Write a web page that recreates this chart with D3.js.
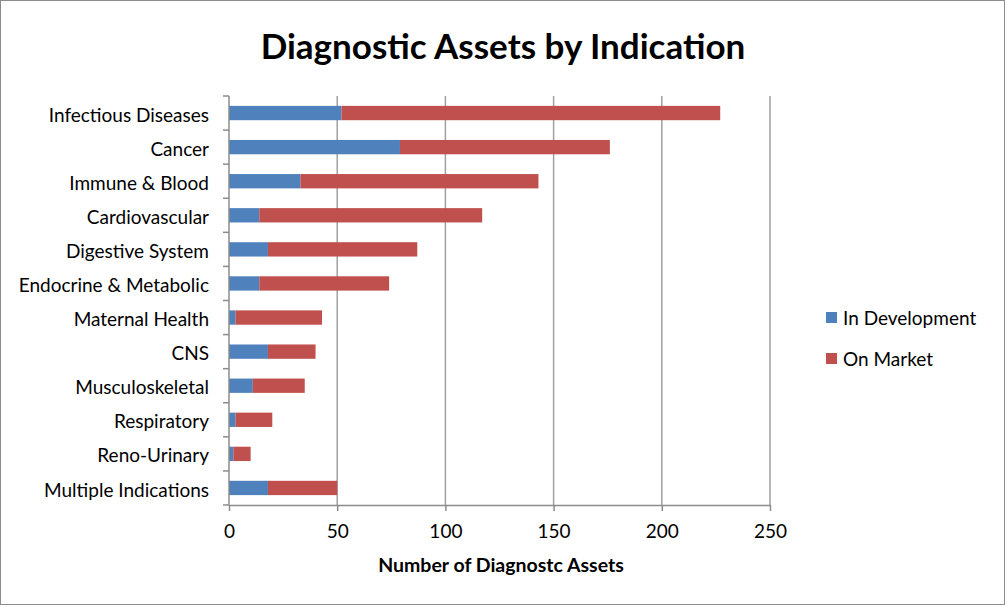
<!DOCTYPE html>
<html>
<head>
<meta charset="utf-8">
<script src="https://cdn.jsdelivr.net/npm/d3@7"></script>
<style>
  body { margin: 0; background: #fff; }
  text { font-family: Lato, "Open Sans", sans-serif; fill: #000; }
</style>
</head>
<body>
<div id="chart"></div>
<script>
const categories = ["Infectious Diseases", "Cancer", "Immune & Blood", "Cardiovascular",
  "Digestive System", "Endocrine & Metabolic", "Maternal Health", "CNS",
  "Musculoskeletal", "Respiratory", "Reno-Urinary", "Multiple Indications"];
const inDevelopment = [52, 79, 33, 14, 18, 14, 3, 18, 11, 3, 2, 18];
const onMarket = [175, 97, 110, 103, 69, 60, 40, 22, 24, 17, 8, 32];
const seriesNames = ["In Development", "On Market"];
const xTicks = [0, 50, 100, 150, 200, 250];

const colors = ["#4f81bd", "#c0504d"];
const width = 1007, height = 607;
const margin = {top: 96, right: 237, bottom: 102, left: 229};
const innerW = width - margin.left - margin.right;
const innerH = height - margin.top - margin.bottom;

const svg = d3.select("#chart").append("svg")
  .attr("width", width).attr("height", height);

svg.append("rect")
  .attr("x", 0.5).attr("y", 0.5)
  .attr("width", width - 3).attr("height", height - 3)
  .attr("fill", "#fff").attr("stroke", "#8c8c8c");

svg.append("text")
  .attr("x", 503).attr("y", 59)
  .attr("text-anchor", "middle")
  .style("font-size", "35px").style("font-weight", "bold")
  .text("Diagnostic Assets by Indication");

const g = svg.append("g").attr("transform", `translate(${margin.left},${margin.top})`);

const x = d3.scaleLinear().domain([0, 250]).range([0, innerW]);
const y = d3.scaleBand().domain(categories).range([0, innerH]).paddingInner(0.58).paddingOuter(0.29);

// gridlines
g.selectAll(".grid").data(xTicks.slice(1))
  .enter().append("line")
  .attr("x1", d => x(d)).attr("x2", d => x(d))
  .attr("y1", 0).attr("y2", innerH)
  .attr("stroke", "#a0a0a0").attr("stroke-width", 1.5);

const data = categories.map((c, i) => ({cat: c, dev: inDevelopment[i], mkt: onMarket[i]}));

g.selectAll(".bar.dev").data(data).enter().append("rect")
  .attr("class", "bar dev")
  .attr("x", x(0))
  .attr("y", d => y(d.cat))
  .attr("width", d => x(d.dev) - x(0))
  .attr("height", y.bandwidth())
  .attr("fill", colors[0]);

g.selectAll(".bar.mkt").data(data).enter().append("rect")
  .attr("class", "bar mkt")
  .attr("x", d => x(d.dev))
  .attr("y", d => y(d.cat))
  .attr("width", d => x(d.dev + d.mkt) - x(d.dev))
  .attr("height", y.bandwidth())
  .attr("fill", colors[1]);

// x axis
const xAxis = g.append("g")
  .attr("transform", `translate(0,${innerH})`)
  .call(d3.axisBottom(x).tickValues(xTicks).tickSize(6).tickSizeOuter(0).tickPadding(14));
xAxis.selectAll("text").style("font-size", "19px").style("font-family", "Lato, sans-serif");

// y axis with ticks at band edges
const yAxisG = g.append("g");
yAxisG.append("line")
  .attr("x1", 0).attr("x2", 0).attr("y1", 0).attr("y2", innerH);
const step = innerH / categories.length;
yAxisG.selectAll(".ytick").data(d3.range(categories.length + 1))
  .enter().append("line")
  .attr("x1", -6).attr("x2", 0)
  .attr("y1", d => d * step).attr("y2", d => d * step);
yAxisG.selectAll("line").attr("stroke", "#8c8c8c").attr("stroke-width", 1.5);
yAxisG.selectAll(".ylab").data(categories)
  .enter().append("text")
  .attr("x", -20)
  .attr("y", d => y(d) + y.bandwidth() / 2)
  .attr("dy", "0.45em")
  .attr("text-anchor", "end")
  .style("font-size", "19px")
  .text(d => d);

xAxis.selectAll("line, path").attr("stroke", "#8c8c8c").attr("stroke-width", 1.5);

svg.append("text")
  .attr("x", 501).attr("y", 572)
  .attr("text-anchor", "middle")
  .style("font-size", "19.5px").style("font-weight", "bold")
  .text("Number of Diagnostc Assets");

// legend
const legend = svg.append("g").attr("transform", "translate(826,312)");
seriesNames.forEach((s, i) => {
  const row = legend.append("g").attr("transform", `translate(0,${i * 41})`);
  row.append("rect").attr("width", 11).attr("height", 11).attr("fill", colors[i]);
  row.append("text").attr("x", 17).attr("y", 6).attr("dy", "0.38em")
    .style("font-size", "19px").text(s);
});
</script>
</body>
</html>
